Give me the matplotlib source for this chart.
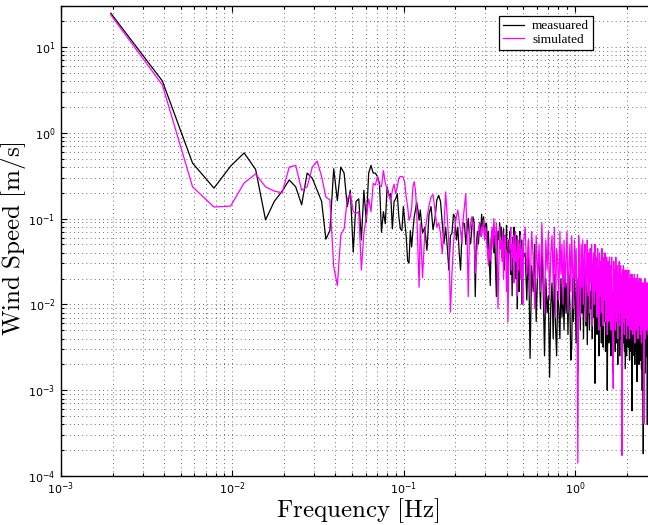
import numpy as np
import matplotlib
matplotlib.use("Agg")
import matplotlib.pyplot as plt

# frequency resolution of the spectrum (Hz per bin)
BIN_HZ = 1.0 / 512

# spectra, stored as log10(amplitude)
# segment a: every bin from 1 to 64
meas_a = [1.393, 0.603, -0.354, -0.645, -0.39, -0.235, -0.427, -1.015, -0.80, -0.68,
          -0.55, -0.63, -0.84, -0.47, -0.53, -0.67, -0.80, -1.24, -1.14, -0.42,
          -0.79, -0.40, -0.47, -0.86, -0.67, -1.39, -0.80, -0.77, -1.25, -0.67,
          -1.04, -0.47, -0.38, -0.47, -0.47, -0.51, -0.59, -1.16, -0.92, -1.06,
          -0.63, -0.73, -0.71, -1.12, -0.80, -0.77, -0.71, -0.98, -1.12, -1.14,
          -0.86, -1.04, -1.21, -1.49, -1.52, -1.14, -1.33, -1.14, -0.98, -0.90,
          -0.81, -0.90, -1.02, -0.90]
sim_a = [1.373, 0.557, -0.63, -0.865, -0.855, -0.585, -0.48, -0.63, -0.68, -0.70,
         -0.40, -0.38, -0.67, -0.63, -0.40, -0.33, -0.51, -0.75, -0.78, -1.56,
         -1.78, -1.19, -1.12, -0.77, -0.71, -0.92, -0.94, -0.92, -1.60, -1.17,
         -0.98, -0.77, -0.92, -0.59, -0.61, -0.51, -0.61, -0.63, -0.44, -0.59,
         -0.65, -0.73, -0.80, -0.67, -0.60, -0.71, -0.63, -0.53, -0.51, -0.51,
         -0.52, -0.59, -0.75, -0.86, -1.02, -0.98, -0.88, -0.63, -0.57, -0.67,
         -0.90, -1.37, -1.80, -1.06]

# segment b: every 2nd bin from 66
meas_b = [-1.17, -1.10, -1.37, -0.95, -0.86, -1.13, -1.00, -0.78, -0.73, -0.80,
          -1.05, -1.29, -1.10, -1.33, -1.60, -1.20, -1.17, -0.95, -0.98, -1.25,
          -1.10, -1.40, -1.60, -1.20, -1.05, -1.06, -1.30, -1.13, -1.00, -1.22,
          -1.29, -1.10, -0.98, -1.05, -1.91, -1.30, -1.15, -1.29, -1.05, -1.20,
          -0.95, -1.10, -0.98, -1.25, -1.06, -1.06, -1.35, -1.15, -1.50, -1.78,
          -1.25, -1.15, -1.13, -1.40, -1.20, -1.55, -1.91, -1.30, -1.15, -1.25,
          -1.05, -1.21, -1.10, -1.45, -1.30, -1.12, -1.60, -1.20, -1.35, -1.08,
          -1.50, -1.75, -1.25, -1.40, -1.15, -1.65, -1.30, -1.90, -1.22, -1.45,
          -1.10, -1.55, -1.35, -1.70, -1.20, -2.05, -1.40, -1.30, -1.85, -1.15,
          -1.50, -1.60, -1.25, -2.00, -1.35, -1.45]
sim_b = [-1.69, -1.17, -1.00, -0.85, -0.75, -0.72, -0.90, -1.10, -1.05, -1.17,
         -1.41, -1.10, -0.69, -0.98, -1.30, -2.09, -1.64, -1.29, -1.10, -0.98,
         -0.90, -1.02, -1.15, -1.29, -1.00, -0.85, -0.71, -1.20, -1.91, -1.17,
         -1.05, -0.98, -1.10, -1.21, -1.64, -1.45, -1.29, -1.15, -1.06, -1.20,
         -1.21, -1.10, -1.02, -1.25, -1.10, -1.20, -1.41, -1.55, -1.30, -1.49,
         -1.25, -1.10, -1.35, -1.00, -1.15, -1.30, -1.05, -1.45, -2.05, -1.60,
         -1.10, -1.35, -1.25, -1.50, -1.15, -1.70, -1.30, -1.20, -1.45, -1.85,
         -1.40, -2.20, -1.55, -1.25, -1.35, -1.10, -1.60, -1.30, -1.45, -1.20,
         -1.75, -1.35, -1.15, -1.50, -1.40, -1.90, -1.25, -1.60, -1.30, -1.45,
         -1.20, -1.70, -1.40, -1.35, -2.00, -1.30]

# segment c: every 6th bin from 262 (dense high-frequency band)
meas_c = [-1.40, -1.95, -1.25, -2.63, -1.55, -1.85, -1.30, -2.20, -1.60, -1.45,
          -2.05, -1.35, -1.80, -2.60, -1.70, -2.10, -1.90, -2.85, -2.00, -1.75,
          -2.40, -1.65, -2.25, -2.60, -1.85, -2.05, -2.40, -1.70, -2.15, -1.80,
          -2.30, -1.60, -2.10, -1.75, -2.35, -1.65, -2.00, -2.65, -2.51, -1.70,
          -2.20, -1.55, -1.95, -2.45, -1.70, -2.80, -1.85, -1.60, -2.30, -1.75,
          -2.10, -1.65, -2.40, -1.80, -1.60, -2.25, -1.75, -2.47, -1.90, -1.70,
          -2.30, -1.85, -2.05, -1.65, -2.40, -1.80, -2.15, -1.75, -2.92, -1.90,
          -1.70, -2.35, -1.85, -2.10, -2.60, -1.75, -2.25, -1.90, -2.45, -1.80,
          -2.05, -2.50, -1.85, -2.20, -1.75, -2.55, -1.95, -1.80, -3.00, -2.10,
          -1.90, -2.45, -1.80, -2.30, -2.00, -2.60, -1.85, -2.25, -2.40, -2.80,
          -1.95, -2.35, -1.90, -2.55, -1.85, -2.20, -2.45, -1.95, -2.70, -2.00,
          -2.30, -1.90, -2.60, -2.05, -1.95, -2.40, -2.10, -2.50, -1.90, -2.45,
          -2.00, -2.30, -2.55, -1.95, -2.75, -2.40, -2.05, -2.60, -1.95, -2.35,
          -2.10, -2.50, -1.95, -2.30, -2.65, -2.00, -2.40, -2.05, -2.55, -2.10,
          -3.24, -2.00, -2.60, -2.15, -2.05, -2.45, -2.10, -2.70, -2.00, -2.35,
          -2.15, -2.55, -2.05, -2.90, -2.10, -2.60, -2.00, -2.40, -2.70, -2.05,
          -2.45, -2.10, -2.65, -2.00, -2.35, -2.75, -2.10, -3.00, -2.20, -2.50,
          -3.74, -2.25, -2.60, -2.05, -2.55, -2.15, -2.80, -2.20, -2.45, -2.10,
          -2.60, -2.20, -3.40, -2.15, -2.50]
sim_c = [-1.10, -1.65, -1.25, -1.90, -1.15, -1.45, -2.05, -1.20, -1.70, -1.30,
         -1.85, -1.05, -1.55, -2.10, -1.25, -1.60, -1.15, -1.95, -1.40, -1.20,
         -1.75, -1.10, -2.15, -1.35, -1.50, -1.95, -1.15, -1.65, -1.30, -2.00,
         -1.25, -1.80, -1.45, -1.15, -2.10, -1.55, -1.30, -1.85, -1.20, -1.60,
         -2.05, -1.25, -1.70, -1.35, -1.95, -3.85, -1.20, -1.55, -2.15, -1.30,
         -1.80, -1.25, -2.00, -1.45, -1.30, -2.20, -1.60, -1.25, -1.90, -1.40,
         -2.10, -1.35, -1.75, -1.30, -2.25, -1.55, -1.40, -2.00, -1.30, -1.85,
         -1.45, -2.15, -1.35, -1.70, -2.30, -1.40, -1.90, -1.50, -2.10, -1.35,
         -1.75, -2.25, -1.45, -1.95, -1.40, -2.20, -1.60, -1.45, -2.35, -1.50,
         -1.80, -2.20, -1.45, -1.95, -1.55, -2.30, -1.45, -1.85, -2.15, -2.98,
         -1.50, -2.05, -1.60, -2.30, -1.45, -1.90, -2.20, -1.55, -2.40, -1.65,
         -2.00, -1.50, -2.25, -1.70, -1.55, -2.10, -1.65, -3.76, -1.60, -2.20,
         -1.55, -1.95, -2.35, -1.65, -1.60, -2.15, -1.75, -2.40, -1.60, -2.00,
         -1.70, -2.25, -1.60, -1.95, -2.40, -1.70, -2.10, -1.65, -2.30, -1.75,
         -2.05, -1.65, -2.35, -1.80, -1.70, -2.20, -1.65, -2.45, -1.75, -2.00,
         -1.70, -2.30, -1.80, -2.10, -1.65, -2.40, -1.75, -1.95, -2.25, -1.70,
         -2.10, -1.80, -2.35, -1.70, -2.00, -2.45, -1.75, -2.15, -1.80, -2.30,
         -1.75, -2.05, -3.39, -1.80, -2.25, -1.70, -2.40, -1.85, -2.10, -1.75,
         -2.30, -1.80, -2.15, -1.75, -2.35]

labels = ["measuared", "simulated"]
colors = ["black", "#ff00ff"]


def freq_of(seg_a, seg_b, seg_c):
    """Frequency (Hz) of each stored value, from the bin layout of the segments"""
    k = np.concatenate([1 + np.arange(len(seg_a)),
                        66 + 2 * np.arange(len(seg_b)),
                        262 + 6 * np.arange(len(seg_c))])
    return k * BIN_HZ


def amp_of(seg_a, seg_b, seg_c):
    return 10.0 ** np.concatenate([seg_a, seg_b, seg_c])


plt.rcParams['mathtext.fontset'] = 'cm'

fig = plt.figure(figsize=(6.48, 5.25), dpi=100)
ax = fig.add_axes([61 / 648, 49 / 525, 587 / 648, 470 / 525])

series = [(meas_a, meas_b, meas_c), (sim_a, sim_b, sim_c)]
for (a, b, c), lab, col in zip(series, labels, colors):
    ax.loglog(freq_of(a, b, c), amp_of(a, b, c), color=col, lw=0.9, label=lab)

ax.set_xlim(1e-3, 2.668)
ax.set_ylim(1e-4, 30)

# MATLAB-like dotted grid, major and minor
ax.set_axisbelow(True)
ax.grid(True, which='both', color='0.25', lw=0.6, linestyle=(0, (1, 4)))

ax.tick_params(which='both', direction='in', top=True, right=False,
               labelsize=8, width=0.8)
ax.tick_params(which='major', length=4)
ax.tick_params(which='minor', length=2.2)
ax.tick_params(axis='x', pad=3)
ax.tick_params(axis='y', pad=4)
ax.spines['right'].set_visible(False)
for s in ['left', 'bottom', 'top']:
    ax.spines[s].set_linewidth(1.0)

fig.text(358 / 648, 1 - 511 / 525, r'$\mathrm{Frequency\ [Hz]}$',
         ha='center', va='center', fontsize=18)
fig.text(14 / 648, 1 - 239 / 525, r'$\mathrm{Wind\ Speed\ [m/s]}$',
         ha='center', va='center', rotation=90, fontsize=18)

leg = ax.legend(loc='upper right', bbox_to_anchor=(593 / 648, 1 - 16 / 525),
                bbox_transform=fig.transFigure, borderaxespad=0,
                fancybox=False, framealpha=1, edgecolor='black',
                prop={'family': 'Liberation Serif', 'size': 9.5},
                handlelength=1.6, handletextpad=0.6, labelspacing=0.1,
                borderpad=0.3)
leg.get_frame().set_linewidth(0.9)

fig.savefig('out.png', dpi=100)
